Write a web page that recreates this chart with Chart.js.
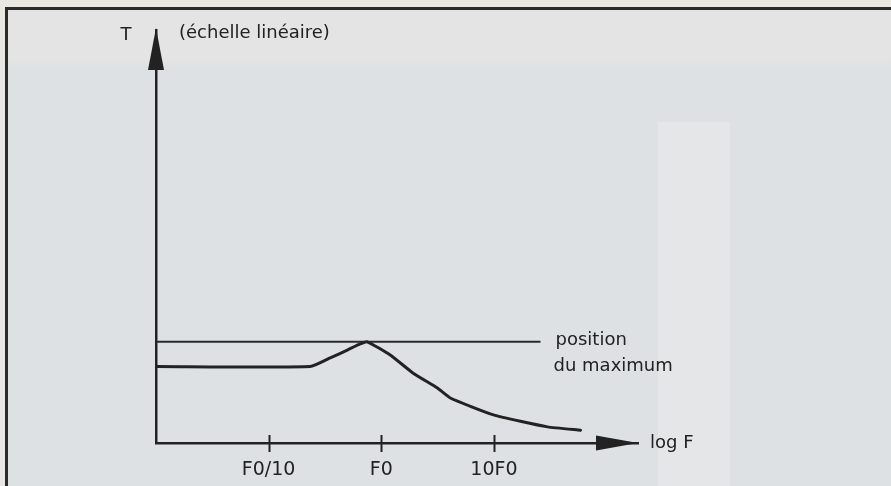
<!DOCTYPE html>
<html>
<head>
<meta charset="utf-8">
<script src="https://cdn.jsdelivr.net/npm/chart.js@4/dist/chart.umd.min.js"></script>
<style>
  html, body { margin: 0; padding: 0; width: 891px; height: 486px; overflow: hidden; background: #e9e7e2; }
  #frame {
    position: absolute; left: 5px; top: 7px; width: 900px; height: 500px;
    border-left: 3px solid #2a2a2a; border-top: 3px solid #2a2a2a;
    background:
      linear-gradient(to right, rgba(0,0,0,0) 650px, #e4e6e7 650px, #e4e6e7 722px, rgba(0,0,0,0) 722px) 0 112px / 100% 100% no-repeat,
      linear-gradient(to bottom, #e3e4e3 0px, #e3e4e3 50px, #dde1e3 62px, #dde1e3 100%);
  }
  #c { position: absolute; left: 0; top: 0; }
</style>
</head>
<body>
<div id="frame"></div>
<canvas id="c" width="891" height="486"></canvas>
<script>
// ---- data ----
const tickValues = [0.1, 1, 10];              // F / F0
const tickLabels = ['F0/10', 'F0', '10F0'];
const curveF = [0.01, 0.234, 0.352, 0.499, 0.65, 0.751, 1.20, 1.92, 3.15, 4.10, 9.9, 29.9, 58.7];
const curveT = [18.5, 18.5, 20.6, 22.5, 24.0, 24.5, 21.3, 16.9, 13.3, 10.9, 6.8, 3.9, 3.1];
const maxLineF = [0.01, 25.9];
const maxLineT = [24.5, 24.5];
const yAxisTitle = 'T';
const yAxisNote = '(échelle linéaire)';
const xAxisTitle = 'log F';
const maxLabel = ['position', 'du maximum'];

const ink = '#222222';
const FONT = '"DejaVu Sans", sans-serif';

const toPts = (xs, ys) => xs.map((v, i) => ({ x: v, y: ys[i] }));

const decorations = {
  id: 'decorations',
  afterDraw(chart) {
    const { ctx, chartArea: a, scales: { x, y } } = chart;
    ctx.save();
    ctx.fillStyle = ink;
    ctx.strokeStyle = ink;
    // y arrow head
    const yTip = y.getPixelForValue(y.max);
    ctx.beginPath();
    ctx.moveTo(a.left, yTip - 2);
    ctx.lineTo(a.left - 8, yTip + 40);
    ctx.lineTo(a.left + 8, yTip + 40);
    ctx.closePath();
    ctx.fill();
    // x arrow head
    const xTip = x.getPixelForValue(x.max);
    ctx.beginPath();
    ctx.moveTo(xTip, a.bottom);
    ctx.lineTo(xTip - 42, a.bottom - 7.5);
    ctx.lineTo(xTip - 42, a.bottom + 7.5);
    ctx.closePath();
    ctx.fill();
    // tick marks crossing the axis
    ctx.lineWidth = 2;
    tickValues.forEach(v => {
      const px = Math.round(x.getPixelForValue(v)) + 0.5;
      ctx.beginPath();
      ctx.moveTo(px, a.bottom - 8);
      ctx.lineTo(px, a.bottom + 9);
      ctx.stroke();
    });
    // texts
    ctx.font = '18px ' + FONT;
    ctx.textBaseline = 'middle';
    ctx.textAlign = 'center';
    ctx.fillText(yAxisTitle, a.left - 30, yTip + 5);
    ctx.textAlign = 'left';
    ctx.fillText(yAxisNote, a.left + 23, yTip + 3);
    ctx.fillText(xAxisTitle, xTip + 12, a.bottom);
    const lineEnd = x.getPixelForValue(maxLineF[1]);
    const lineY = y.getPixelForValue(maxLineT[1]);
    ctx.fillText(maxLabel[0], lineEnd + 15, lineY - 1);
    ctx.fillText(maxLabel[1], lineEnd + 13, lineY + 25);
    ctx.restore();
  }
};

new Chart(document.getElementById('c'), {
  type: 'scatter',
  data: {
    datasets: [
      {
        data: toPts(curveF, curveT),
        showLine: true, borderColor: ink, borderWidth: 3,
        pointRadius: 0, tension: 0.15, borderJoinStyle: 'round', borderCapStyle: 'round'
      },
      {
        data: toPts(maxLineF, maxLineT),
        showLine: true, borderColor: '#2a2a2a', borderWidth: 2,
        pointRadius: 0, tension: 0
      }
    ]
  },
  options: {
    responsive: false,
    animation: false,
    devicePixelRatio: 1,
    layout: { padding: { left: 156, top: 30, right: 253, bottom: 0 } },
    plugins: { legend: { display: false }, tooltip: { enabled: false } },
    scales: {
      x: {
        type: 'logarithmic',
        min: 0.01, max: 190,
        afterBuildTicks: s => { s.ticks = tickValues.map(v => ({ value: v })); },
        afterFit: s => { s.height = 43; },
        grid: { display: false, drawTicks: false },
        border: { display: true, color: ink, width: 2.5 },
        ticks: {
          autoSkip: false, maxRotation: 0, padding: 16,
          color: ink, font: { family: FONT, size: 19 },
          callback: (v, i) => tickLabels[i]
        }
      },
      y: {
        type: 'linear',
        min: 0, max: 100,
        afterFit: s => { s.width = 0; },
        grid: { display: false, drawTicks: false },
        border: { display: true, color: ink, width: 2.5 },
        ticks: { display: false }
      }
    }
  },
  plugins: [decorations]
});
</script>
</body>
</html>
